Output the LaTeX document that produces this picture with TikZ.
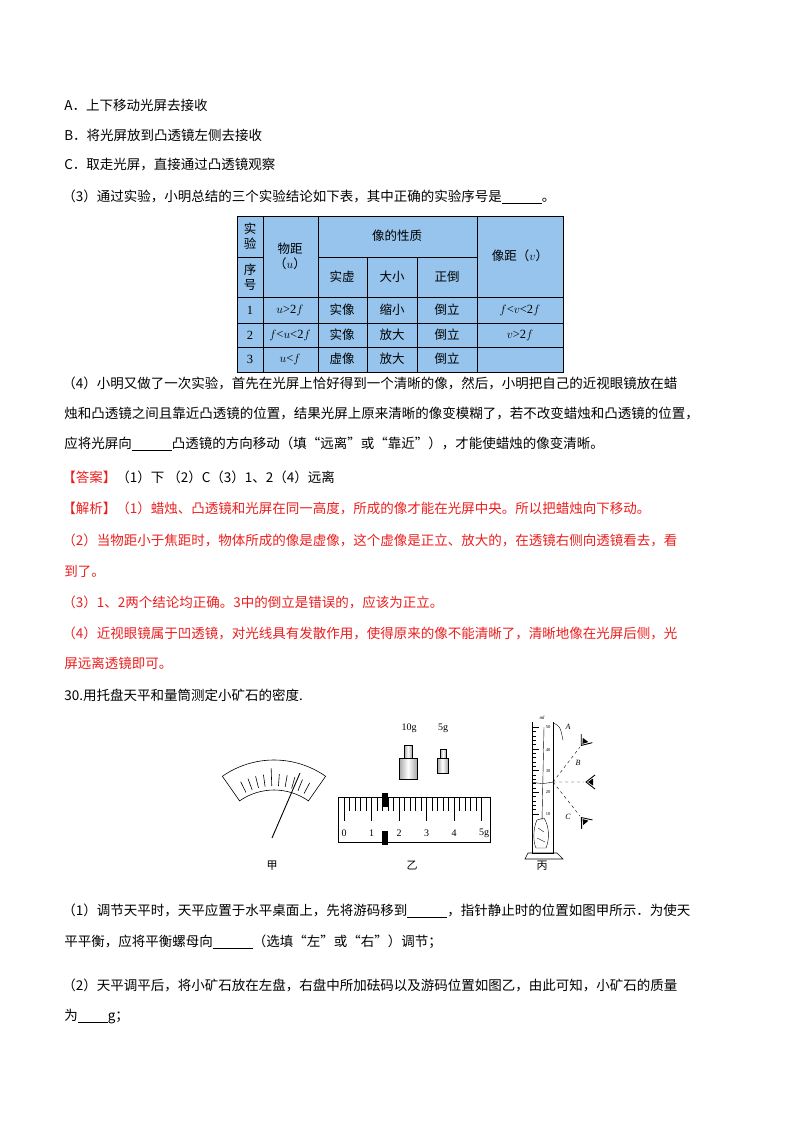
\documentclass[tikz,border=0pt]{standalone}
\usepackage{fontspec}
\setmainfont{Liberation Serif}
\newfontfamily\cjk{Noto Sans CJK SC}
\usetikzlibrary{positioning}
\definecolor{ansred}{RGB}{235,30,30}
\definecolor{tabblue}{RGB}{150,196,236}
\newcommand{\blank}[1][40pt]{\rule[-2pt]{#1}{0.5pt}}
\tikzset{
  txt/.style={anchor=west,inner sep=0pt,font=\cjk\fontsize{13.5}{14}\selectfont},
  redtxt/.style={txt,text=ansred},
  cell/.style={inner sep=0pt,align=center,font=\cjk\fontsize{12.5}{15}\selectfont},
  lbl/.style={inner sep=0pt,font=\cjk\fontsize{11}{12}\selectfont},
  num/.style={inner sep=0pt,font=\fontsize{10}{11}\selectfont},
}
\begin{document}
\begin{tikzpicture}[x=1pt,y=-1pt,line width=0.6pt]
\useasboundingbox (0,0) rectangle (800,1132);

%% question text
\node[txt] (qa) at (64,105) {A．上下移动光屏去接收};
\node[txt] (qb) at (64,135) {B．将光屏放到凸透镜左侧去接收};
\node[txt] (qc) at (64,165) {C．取走光屏，直接通过凸透镜观察};
\node[txt] (q3) at (62,197) {（3）通过实验，小明总结的三个实验结论如下表，其中正确的实验序号是\blank。};

%% table
\fill[tabblue] (237,216) rectangle (563,372);
\draw (237,216) rectangle (563,372);
\draw (237,297) -- (563,297) (237,323) -- (563,323) (237,347) -- (563,347);
\draw (237,257) -- (263,257) (318,257) -- (477,257);
\draw (263,216) -- (263,372) (318,216) -- (318,372) (477,216) -- (477,372);
\draw (367,257) -- (367,372) (417,257) -- (417,372);
\node[cell] (h1) at (250,236) {实\\验};
\node[cell] (h2) at (250,277) {序\\号};
\node[cell] (h3) at (290,256) {物距\\（$u$）};
\node[cell] (h4) at (397,236) {像的性质};
\node[cell] (h5) at (342,277) {实虚};
\node[cell] (h6) at (392,277) {大小};
\node[cell] (h7) at (447,277) {正倒};
\node[cell] (h8) at (520,256) {像距（$v$）};
\foreach \n/\u/\s/\d/\o/\v [count=\i] in {1/$u$>2$f$/实像/缩小/倒立/$f$<$v$<2$f$,
    2/$f$<$u$<2$f$/实像/放大/倒立/$v$>2$f$,
    3/$u$<$f$/虚像/放大/倒立/{}}{
  \pgfmathsetmacro\yy{{310,335,359}[\i-1]}
  \node[cell] (r\i a) at (250,\yy) {\rmfamily\n};
  \node[cell] (r\i b) at (290,\yy) {\rmfamily\u};
  \node[cell] (r\i c) at (342,\yy) {\s};
  \node[cell] (r\i d) at (392,\yy) {\d};
  \node[cell] (r\i e) at (447,\yy) {\o};
  \node[cell] (r\i f) at (520,\yy) {\rmfamily\v};
}

\node[txt] (q4a) at (62,383) {（4）小明又做了一次实验，首先在光屏上恰好得到一个清晰的像，然后，小明把自己的近视眼镜放在蜡};
\node[txt] (q4b) at (64,413) {烛和凸透镜之间且靠近凸透镜的位置，结果光屏上原来清晰的像变模糊了，若不改变蜡烛和凸透镜的位置，};
\node[txt] (q4c) at (64,444) {应将光屏向\blank 凸透镜的方向移动（填“远离”或“靠近”），才能使蜡烛的像变清晰。};

%% answer
\node[txt] (ans) at (62,477) {\textcolor{ansred}{【答案】}（1）下\ （2）C（3）1、2（4）远离};
\node[redtxt] (jx1) at (62,508) {【解析】（1）蜡烛、凸透镜和光屏在同一高度，所成的像才能在光屏中央。所以把蜡烛向下移动。};
\node[redtxt] (jx2) at (62,540) {（2）当物距小于焦距时，物体所成的像是虚像，这个虚像是正立、放大的，在透镜右侧向透镜看去，看};
\node[redtxt] (jx3) at (64,571) {到了。};
\node[redtxt] (jx4) at (62,602) {（3）1、2两个结论均正确。3中的倒立是错误的，应该为正立。};
\node[redtxt] (jx5) at (62,633) {（4）近视眼镜属于凹透镜，对光线具有发散作用，使得原来的像不能清晰了，清晰地像在光屏后侧，光};
\node[redtxt] (jx6) at (64,663) {屏远离透镜即可。};

\node[txt] (q30) at (64,695) {30.用托盘天平和量筒测定小矿石的密度.};

%% 甲: pointer dial
\draw (274,850) ++(-125:90) arc (-125:-55:90) -- ++(125:30) arc (-55:-125:60) -- cycle;
\foreach \a in {62,68,...,118}{
  \pgfmathsetmacro\rr{\a==92?82:76}
  \draw ({274+64*cos(\a)},{850-64*sin(\a)}) -- ({274+\rr*cos(\a)},{850-\rr*sin(\a)});
}
\draw[line width=0.9pt] (272,838) -- (300,773);
\node[lbl] (jia) at (272,866) {甲};

%% 乙: weights and rider scale
\node[num] (w10) at (409,728) {10g};
\node[num] (w5) at (443,728) {5g};
\shade[left color=gray!70,right color=gray!70,middle color=white,draw=black,line width=0.4pt] (404,745) rectangle (412,758);
\shade[left color=gray!70,right color=gray!70,middle color=white,draw=black,line width=0.4pt] (399,758) rectangle (417,779);
\shade[left color=gray!70,right color=gray!70,middle color=white,draw=black,line width=0.4pt] (440,749) rectangle (446,758);
\shade[left color=gray!70,right color=gray!70,middle color=white,draw=black,line width=0.4pt] (437,758) rectangle (448,773);
\draw (338,797) rectangle (490,842);
\foreach \k in {0,...,25}{
  \pgfmathsetmacro\xx{344+\k*5.5}
  \pgfmathsetmacro\ll{mod(\k,5)==0?24:14}
  \draw[line width=0.4pt] (\xx,797) -- (\xx,797+\ll);
}
\foreach \g in {0,...,4}
  \node[num] (n\g) at ({344+\g*27.5},833) {\g};
\node[num] (n5) at (484,833) {5g};
\fill (382,793) rectangle (388,807);
\fill (382,831) rectangle (388,845);
\node[lbl] (yi) at (412,866) {乙};

%% 丙: measuring cylinder
\draw (532,722) -- (532,853) -- (553,853) -- (553,722);
\draw (525,859) -- (528,853) -- (557,853) -- (563,859) -- cycle;
\draw[line width=0.4pt] (553,723) .. controls (560,726) .. (563,740);
\node[num,font=\fontsize{5}{6}\itshape] (ml) at (542,718) {ml};
\foreach \k in {0,...,20}{
  \pgfmathsetmacro\tl{mod(\k,5)==0?7:4}
  \draw[line width=0.4pt] (532,{727+\k*4.35}) -- ++(\tl,0);
}
\foreach \v/\yy in {50/727,40/750,30/771,20/792,10/814}
  \node[num,font=\fontsize{4.5}{5}\selectfont] (c\v) at (548,\yy) {\v};
\draw[line width=0.4pt] (532,782) .. controls (542,784) .. (553,782);
\draw[line width=0.4pt] (544,727) -- (542,820);
\draw[line width=0.4pt] (537,820) .. controls (533,828) and (533,842) .. (536,848)
  -- (546,848) .. controls (550,838) and (549,826) .. (544,818) -- cycle;
\draw[line width=0.3pt] (538,828) -- (544,832) (537,838) -- (545,842);
\coordinate (lvl) at (553,782);
\coordinate (eA) at (580,747);
\coordinate (eB) at (584,782);
\coordinate (eC) at (580,816);
\draw[dashed,line width=0.4pt] (lvl) -- (eA) (lvl) -- (eB) (lvl) -- (eC);
\foreach \e/\r in {eA/52,eB/0,eC/-50}{
  \begin{scope}[shift={(\e)},rotate=\r]
    \draw[line width=0.9pt] (11,-7) -- (2,0) -- (11,7);
    \fill (4,0) -- (9,-3.5) -- (9,3.5) -- cycle;
  \end{scope}
}
\node[num,font=\fontsize{8}{9}\itshape] (lA) at (568,727) {A};
\node[num,font=\fontsize{8}{9}\itshape] (lB) at (578,763) {B};
\node[num,font=\fontsize{8}{9}\itshape] (lC) at (568,817) {C};
\node[lbl] (bing) at (542,866) {丙};

%% questions
\node[txt] (p1a) at (62,911) {（1）调节天平时，天平应置于水平桌面上，先将游码移到\blank，指针静止时的位置如图甲所示．为使天};
\node[txt] (p1b) at (64,942) {平平衡，应将平衡螺母向\blank（选填“左”或“右”）调节；};
\node[txt] (p2a) at (62,985) {（2）天平调平后，将小矿石放在左盘，右盘中所加砝码以及游码位置如图乙，由此可知，小矿石的质量};
\node[txt] (p2b) at (64,1017) {为\blank[30pt]g；};
\end{tikzpicture}
\end{document}
